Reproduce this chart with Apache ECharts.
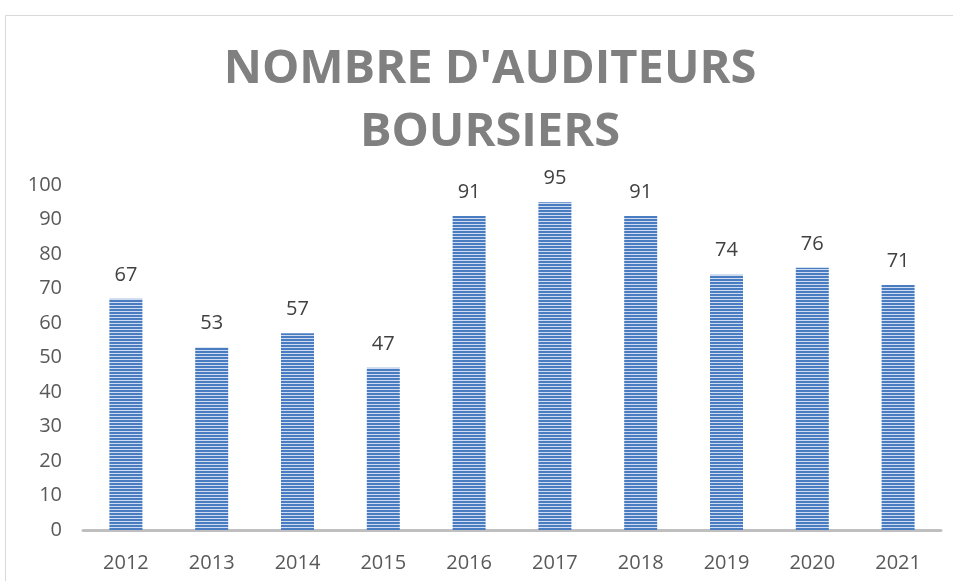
<!DOCTYPE html>
<html>
<head>
<meta charset="utf-8">
<script src="https://cdn.jsdelivr.net/npm/echarts@6/dist/echarts.min.js"></script>
<style>
  html, body { margin: 0; padding: 0; background: #fff; }
  #main { width: 953px; height: 581px; }
</style>
</head>
<body>
<div id="main"></div>
<script>
const years = ["2012", "2013", "2014", "2015", "2016", "2017", "2018", "2019", "2020", "2021"];
const auditeurs = [67, 53, 57, 47, 91, 95, 91, 74, 76, 71];
const titleText = "NOMBRE D'AUDITEURS\nBOURSIERS";

// horizontal stripes like the office "pattern" fill
function stripePattern() {
  const c = document.createElement("canvas");
  c.width = 4;
  c.height = 3;
  const ctx = c.getContext("2d");
  ctx.fillStyle = "#4a7cc2";
  ctx.fillRect(0, 0, 4, 2);
  ctx.fillStyle = "#cfdcf0";
  ctx.fillRect(0, 2, 4, 1);
  return c;
}

const chart = echarts.init(document.getElementById("main"));
const options = {
  animation: false,
  title: {
    text: titleText,
    top: 33,
    left: 485,
    textAlign: "center",
    textStyle: {
      fontFamily: "Open Sans",
      fontWeight: "bold",
      fontSize: 47,
      lineHeight: 63,
      color: "#808080",
    },
  },
  graphic: [
    {
      type: "rect",
      shape: { x: 5.5, y: 15.5, width: 1000, height: 700 },
      style: { fill: "none", stroke: "#d9d9d9", lineWidth: 1 },
      silent: true,
    },
  ],
  grid: {
    left: 83,
    right: 12,
    top: 185,
    bottom: 51,
    containLabel: false,
  },
  xAxis: {
    type: "category",
    data: years,
    axisLine: { show: true, lineStyle: { color: "#bfbfbf", width: 3 } },
    axisTick: { show: false },
    axisLabel: {
      color: "#595959",
      fontFamily: "Open Sans",
      fontSize: 20,
      margin: 23,
    },
  },
  yAxis: {
    type: "value",
    min: 0,
    max: 100,
    interval: 10,
    axisLine: { show: false },
    axisTick: { show: false },
    splitLine: { show: false },
    axisLabel: {
      color: "#595959",
      fontFamily: "Open Sans",
      fontSize: 20,
      margin: 21,
    },
  },
  series: [
    {
      type: "bar",
      data: auditeurs,
      barWidth: 33,
      itemStyle: {
        color: { image: stripePattern(), repeat: "repeat" },
      },
      label: {
        show: true,
        position: "top",
        distance: 14,
        color: "#404040",
        fontFamily: "Open Sans",
        fontSize: 20,
      },
    },
  ],
};
chart.setOption(options);
</script>
</body>
</html>
